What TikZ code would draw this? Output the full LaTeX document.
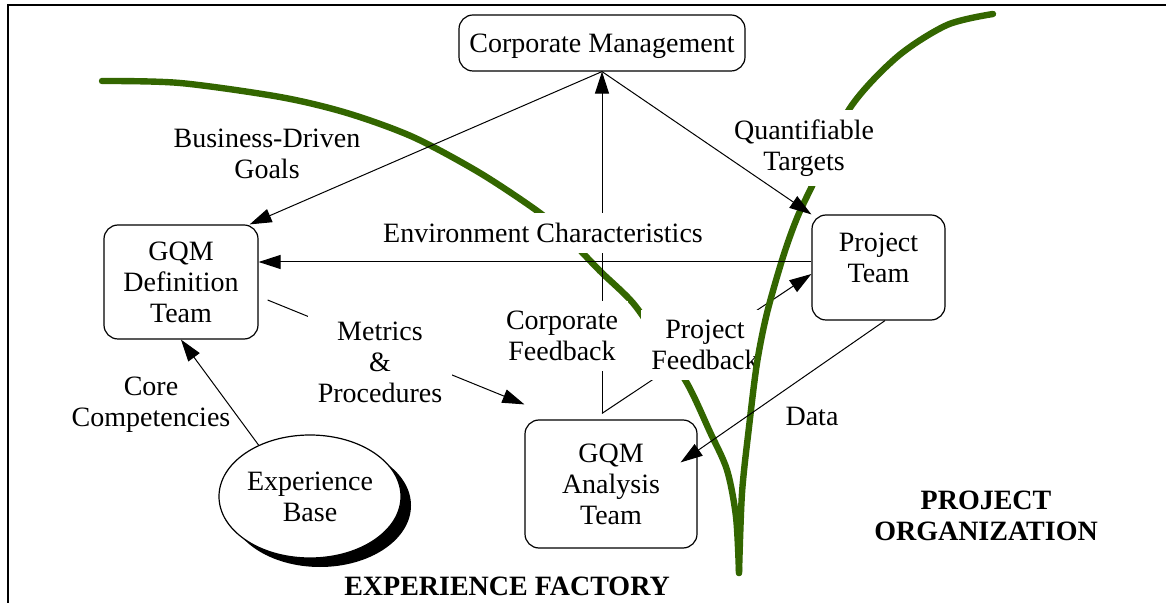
\documentclass[tikz,border=0pt]{standalone}
\usepackage{fontspec}
\setmainfont{Liberation Serif}
\usetikzlibrary{arrows.meta,shapes.geometric,calc}
\definecolor{leafgreen}{RGB}{51,102,0}
\newcommand{\labfont}{\fontsize{14}{15.5}\selectfont}
\begin{document}
\begin{tikzpicture}[x=0.5pt,y=-0.5pt,
  box/.style={draw, rounded corners=7pt, line width=0.6pt, fill=white, align=center, font=\labfont, inner sep=0pt},
  lab/.style={align=center, font=\labfont, inner sep=0pt},
  cut/.style={lab, fill=white, inner sep=5pt},
  arr/.style={line width=0.5pt, -{Triangle[length=11pt,width=7pt]}},
  leaf/.style={draw=leafgreen, line width=3.2pt, line cap=round},
  titlelab/.style={align=center, font=\labfont\bfseries, inner sep=0pt}]
\useasboundingbox (0,0) rectangle (1166,603);
% frame
\draw[line width=0.9pt] (8,603) -- (8,5) -- (1166,5);
% boxes
\node[box, minimum width=143pt, minimum height=28pt, text depth=0pt] (cm) at (602,43) {Corporate Management};
\node[box, minimum width=77pt, minimum height=57pt] (def) at (181,282) {GQM\\Definition\\Team};
\node[box, minimum width=66.5pt, minimum height=52.5pt] (pt) at (878.5,267.5) {};
\node[lab] (ptt) at (878.5,258) {Project\\Team};
\node[box, minimum width=86pt, minimum height=64pt] (an) at (611,484) {GQM\\Analysis\\Team};
\node[ellipse, fill=black, minimum width=91pt, minimum height=61.5pt, inner sep=0pt] (ebs) at (320,505.5) {};
\node[ellipse, draw, line width=0.6pt, fill=white, minimum width=91pt, minimum height=61.5pt, inner sep=0pt, align=center, font=\labfont] (eb) at (310,496.5) {Experience\\Base};
% helper coordinates
\coordinate (ap) at ($(an.north)+(-9,-6)$);
\coordinate (envs) at ($(pt.west)+(0,-5.5)$);
\coordinate (enve) at ($(def.east)+(0,-20)$);
\coordinate (pfbt) at ($(pt.west)+(0,6.5)$);
\coordinate (mps) at ($(def.east)+(9,18)$);
\coordinate (mpt) at ($(an.north west)+(0,-15)$);
\coordinate (ds) at ($(pt.south)+(6.5,0)$);
\coordinate (dt) at ($(an.north east)+(-17,43)$);
% left green curve
\draw[leaf] plot[smooth] coordinates {(102,81) (180,83) (280,97) (347,113) (413,137) (480,173) (540,213) (570,240) (600,271) (633,303) (660,342) (688,385) (710,432) (727,470) (736,517) (739,573)};
% interrupted arrows
\draw[arr] (ap) -- (cm.south);
\draw[arr] (ap) -- (pfbt);
\draw[arr] (mps) -- (mpt);
% labels that interrupt lines
\node[cut] (envl) at (543,233) {Environment Characteristics};
\node[cut] (cfb) at (562,336) {Corporate\\Feedback};
\node[cut] (pfb) at (705,345) {Project\\Feedback};
\node[cut] (mp) at (380,362) {Metrics\\\&\\Procedures};
% right green curve
\draw[leaf] plot[smooth] coordinates {(739,573) (742,493) (749,427) (757,363) (767,313) (783,257) (797,218) (813,184) (850,108) (897,57) (947,25) (993,14)};
\node[cut] (qt) at (804,148) {Quantifiable\\Targets};
% other arrows
\draw[arr] (cm.south) -- (def.40);
\draw[arr] (cm.south) -- (pt.north west);
\draw[arr] (envs) -- (enve);
\draw[arr] (ds) -- (dt);
\draw[arr] (eb.135) -- (def.south);
% plain labels
\node[lab] (bdg) at (267,154) {Business-Driven\\Goals};
\node[lab] (cc) at (151,405) {Core\\Competencies};
\node[lab] (data) at (812,416) {Data};
\node[titlelab] (ef) at (507,586) {EXPERIENCE FACTORY};
\node[titlelab] (po) at (986,516) {PROJECT\\ORGANIZATION};
\end{tikzpicture}
\end{document}
